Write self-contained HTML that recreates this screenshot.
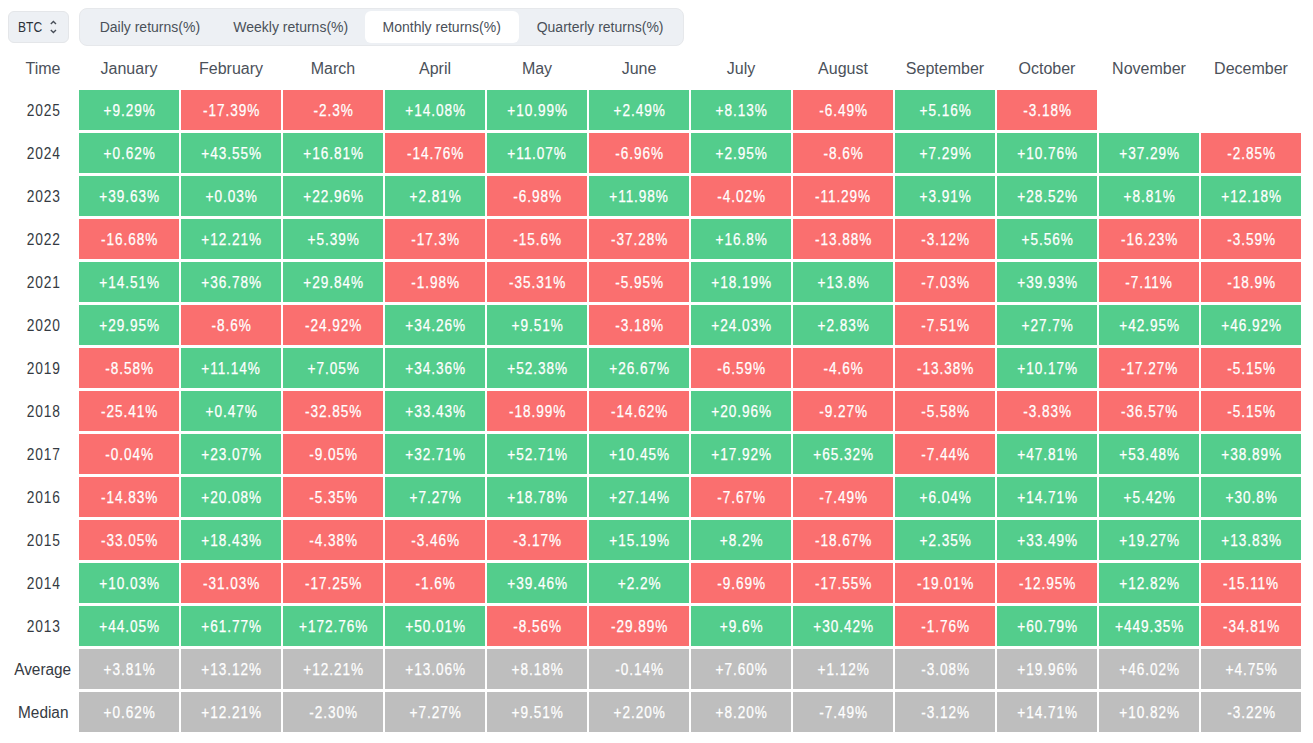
<!DOCTYPE html><html><head><meta charset="utf-8"><style>
*{margin:0;padding:0;box-sizing:border-box}
html,body{width:1313px;height:743px;background:#fff;overflow:hidden}
body{position:relative;font-family:"Liberation Sans",sans-serif}
.sel{position:absolute;left:8px;top:11px;width:61px;height:32px;background:#edf0f4;border:1px solid #e4e6e9;border-radius:6px}
.sel span{position:absolute;left:9px;top:7px;font-size:14px;line-height:16px;color:#2b3139;transform:scaleX(.86);transform-origin:0 0}
.sel svg{position:absolute;left:41px;top:8px}
.tabs{position:absolute;left:79px;top:8px;width:605px;height:38px;background:#edf0f4;border:1px solid #e6e8eb;border-radius:8px}
.act{position:absolute;left:365px;top:11px;width:154px;height:32px;background:#fff;border-radius:6px}
.t{position:absolute;top:19px;font-size:14px;line-height:16px;color:#4a5059;white-space:nowrap}
.h{position:absolute;top:60px;font-size:16px;line-height:18px;color:#4b515a;white-space:nowrap;text-align:center}
.y{position:absolute;font-size:16px;line-height:18px;color:#353a42;white-space:nowrap;text-align:center;width:70px;left:8px}
.c{position:absolute;width:100px;height:40px;color:#fff;font-size:16px;line-height:38px;padding-top:2px;text-align:center;white-space:nowrap}
.c span{display:inline-block;transform:scaleX(.85);letter-spacing:1.1px;margin-left:1.1px;-webkit-text-stroke:0.25px #fff}
.y span{display:inline-block;transform:scaleX(.86);letter-spacing:1px;margin-left:1px}
.y .w{transform:scaleX(.96);letter-spacing:0;margin-left:0}
.g{background:#53cd8c}.r{background:#fa6f6f}.n{background:#bebebe}
</style></head><body>
<div class="sel"><span>BTC</span><svg width="10" height="16" viewBox="0 0 10 16"><path d="M0.8 4 L3.4 1.5 L6 4 M0.8 10 L3.4 12.5 L6 10" fill="none" stroke="#474d57" stroke-width="1.35"/></svg></div>
<div class="tabs"></div><div class="act"></div>
<div class="t" style="left:99.7px">Daily returns(%)</div>
<div class="t" style="left:233.3px">Weekly returns(%)</div>
<div class="t" style="left:382.6px">Monthly returns(%)</div>
<div class="t" style="left:536.7px">Quarterly returns(%)</div>
<div class="h" style="left:8px;width:70px">Time</div>
<div class="h" style="left:79px;width:100px">January</div>
<div class="h" style="left:181px;width:100px">February</div>
<div class="h" style="left:283px;width:100px">March</div>
<div class="h" style="left:385px;width:100px">April</div>
<div class="h" style="left:487px;width:100px">May</div>
<div class="h" style="left:589px;width:100px">June</div>
<div class="h" style="left:691px;width:100px">July</div>
<div class="h" style="left:793px;width:100px">August</div>
<div class="h" style="left:895px;width:100px">September</div>
<div class="h" style="left:997px;width:100px">October</div>
<div class="h" style="left:1099px;width:100px">November</div>
<div class="h" style="left:1201px;width:100px">December</div>
<div class="y" style="top:102px"><span>2025</span></div>
<div class="c g" style="left:79px;top:90px"><span>+9.29%</span></div>
<div class="c r" style="left:181px;top:90px"><span>-17.39%</span></div>
<div class="c r" style="left:283px;top:90px"><span>-2.3%</span></div>
<div class="c g" style="left:385px;top:90px"><span>+14.08%</span></div>
<div class="c g" style="left:487px;top:90px"><span>+10.99%</span></div>
<div class="c g" style="left:589px;top:90px"><span>+2.49%</span></div>
<div class="c g" style="left:691px;top:90px"><span>+8.13%</span></div>
<div class="c r" style="left:793px;top:90px"><span>-6.49%</span></div>
<div class="c g" style="left:895px;top:90px"><span>+5.16%</span></div>
<div class="c r" style="left:997px;top:90px"><span>-3.18%</span></div>
<div class="y" style="top:145px"><span>2024</span></div>
<div class="c g" style="left:79px;top:133px"><span>+0.62%</span></div>
<div class="c g" style="left:181px;top:133px"><span>+43.55%</span></div>
<div class="c g" style="left:283px;top:133px"><span>+16.81%</span></div>
<div class="c r" style="left:385px;top:133px"><span>-14.76%</span></div>
<div class="c g" style="left:487px;top:133px"><span>+11.07%</span></div>
<div class="c r" style="left:589px;top:133px"><span>-6.96%</span></div>
<div class="c g" style="left:691px;top:133px"><span>+2.95%</span></div>
<div class="c r" style="left:793px;top:133px"><span>-8.6%</span></div>
<div class="c g" style="left:895px;top:133px"><span>+7.29%</span></div>
<div class="c g" style="left:997px;top:133px"><span>+10.76%</span></div>
<div class="c g" style="left:1099px;top:133px"><span>+37.29%</span></div>
<div class="c r" style="left:1201px;top:133px"><span>-2.85%</span></div>
<div class="y" style="top:188px"><span>2023</span></div>
<div class="c g" style="left:79px;top:176px"><span>+39.63%</span></div>
<div class="c g" style="left:181px;top:176px"><span>+0.03%</span></div>
<div class="c g" style="left:283px;top:176px"><span>+22.96%</span></div>
<div class="c g" style="left:385px;top:176px"><span>+2.81%</span></div>
<div class="c r" style="left:487px;top:176px"><span>-6.98%</span></div>
<div class="c g" style="left:589px;top:176px"><span>+11.98%</span></div>
<div class="c r" style="left:691px;top:176px"><span>-4.02%</span></div>
<div class="c r" style="left:793px;top:176px"><span>-11.29%</span></div>
<div class="c g" style="left:895px;top:176px"><span>+3.91%</span></div>
<div class="c g" style="left:997px;top:176px"><span>+28.52%</span></div>
<div class="c g" style="left:1099px;top:176px"><span>+8.81%</span></div>
<div class="c g" style="left:1201px;top:176px"><span>+12.18%</span></div>
<div class="y" style="top:231px"><span>2022</span></div>
<div class="c r" style="left:79px;top:219px"><span>-16.68%</span></div>
<div class="c g" style="left:181px;top:219px"><span>+12.21%</span></div>
<div class="c g" style="left:283px;top:219px"><span>+5.39%</span></div>
<div class="c r" style="left:385px;top:219px"><span>-17.3%</span></div>
<div class="c r" style="left:487px;top:219px"><span>-15.6%</span></div>
<div class="c r" style="left:589px;top:219px"><span>-37.28%</span></div>
<div class="c g" style="left:691px;top:219px"><span>+16.8%</span></div>
<div class="c r" style="left:793px;top:219px"><span>-13.88%</span></div>
<div class="c r" style="left:895px;top:219px"><span>-3.12%</span></div>
<div class="c g" style="left:997px;top:219px"><span>+5.56%</span></div>
<div class="c r" style="left:1099px;top:219px"><span>-16.23%</span></div>
<div class="c r" style="left:1201px;top:219px"><span>-3.59%</span></div>
<div class="y" style="top:274px"><span>2021</span></div>
<div class="c g" style="left:79px;top:262px"><span>+14.51%</span></div>
<div class="c g" style="left:181px;top:262px"><span>+36.78%</span></div>
<div class="c g" style="left:283px;top:262px"><span>+29.84%</span></div>
<div class="c r" style="left:385px;top:262px"><span>-1.98%</span></div>
<div class="c r" style="left:487px;top:262px"><span>-35.31%</span></div>
<div class="c r" style="left:589px;top:262px"><span>-5.95%</span></div>
<div class="c g" style="left:691px;top:262px"><span>+18.19%</span></div>
<div class="c g" style="left:793px;top:262px"><span>+13.8%</span></div>
<div class="c r" style="left:895px;top:262px"><span>-7.03%</span></div>
<div class="c g" style="left:997px;top:262px"><span>+39.93%</span></div>
<div class="c r" style="left:1099px;top:262px"><span>-7.11%</span></div>
<div class="c r" style="left:1201px;top:262px"><span>-18.9%</span></div>
<div class="y" style="top:317px"><span>2020</span></div>
<div class="c g" style="left:79px;top:305px"><span>+29.95%</span></div>
<div class="c r" style="left:181px;top:305px"><span>-8.6%</span></div>
<div class="c r" style="left:283px;top:305px"><span>-24.92%</span></div>
<div class="c g" style="left:385px;top:305px"><span>+34.26%</span></div>
<div class="c g" style="left:487px;top:305px"><span>+9.51%</span></div>
<div class="c r" style="left:589px;top:305px"><span>-3.18%</span></div>
<div class="c g" style="left:691px;top:305px"><span>+24.03%</span></div>
<div class="c g" style="left:793px;top:305px"><span>+2.83%</span></div>
<div class="c r" style="left:895px;top:305px"><span>-7.51%</span></div>
<div class="c g" style="left:997px;top:305px"><span>+27.7%</span></div>
<div class="c g" style="left:1099px;top:305px"><span>+42.95%</span></div>
<div class="c g" style="left:1201px;top:305px"><span>+46.92%</span></div>
<div class="y" style="top:360px"><span>2019</span></div>
<div class="c r" style="left:79px;top:348px"><span>-8.58%</span></div>
<div class="c g" style="left:181px;top:348px"><span>+11.14%</span></div>
<div class="c g" style="left:283px;top:348px"><span>+7.05%</span></div>
<div class="c g" style="left:385px;top:348px"><span>+34.36%</span></div>
<div class="c g" style="left:487px;top:348px"><span>+52.38%</span></div>
<div class="c g" style="left:589px;top:348px"><span>+26.67%</span></div>
<div class="c r" style="left:691px;top:348px"><span>-6.59%</span></div>
<div class="c r" style="left:793px;top:348px"><span>-4.6%</span></div>
<div class="c r" style="left:895px;top:348px"><span>-13.38%</span></div>
<div class="c g" style="left:997px;top:348px"><span>+10.17%</span></div>
<div class="c r" style="left:1099px;top:348px"><span>-17.27%</span></div>
<div class="c r" style="left:1201px;top:348px"><span>-5.15%</span></div>
<div class="y" style="top:403px"><span>2018</span></div>
<div class="c r" style="left:79px;top:391px"><span>-25.41%</span></div>
<div class="c g" style="left:181px;top:391px"><span>+0.47%</span></div>
<div class="c r" style="left:283px;top:391px"><span>-32.85%</span></div>
<div class="c g" style="left:385px;top:391px"><span>+33.43%</span></div>
<div class="c r" style="left:487px;top:391px"><span>-18.99%</span></div>
<div class="c r" style="left:589px;top:391px"><span>-14.62%</span></div>
<div class="c g" style="left:691px;top:391px"><span>+20.96%</span></div>
<div class="c r" style="left:793px;top:391px"><span>-9.27%</span></div>
<div class="c r" style="left:895px;top:391px"><span>-5.58%</span></div>
<div class="c r" style="left:997px;top:391px"><span>-3.83%</span></div>
<div class="c r" style="left:1099px;top:391px"><span>-36.57%</span></div>
<div class="c r" style="left:1201px;top:391px"><span>-5.15%</span></div>
<div class="y" style="top:446px"><span>2017</span></div>
<div class="c r" style="left:79px;top:434px"><span>-0.04%</span></div>
<div class="c g" style="left:181px;top:434px"><span>+23.07%</span></div>
<div class="c r" style="left:283px;top:434px"><span>-9.05%</span></div>
<div class="c g" style="left:385px;top:434px"><span>+32.71%</span></div>
<div class="c g" style="left:487px;top:434px"><span>+52.71%</span></div>
<div class="c g" style="left:589px;top:434px"><span>+10.45%</span></div>
<div class="c g" style="left:691px;top:434px"><span>+17.92%</span></div>
<div class="c g" style="left:793px;top:434px"><span>+65.32%</span></div>
<div class="c r" style="left:895px;top:434px"><span>-7.44%</span></div>
<div class="c g" style="left:997px;top:434px"><span>+47.81%</span></div>
<div class="c g" style="left:1099px;top:434px"><span>+53.48%</span></div>
<div class="c g" style="left:1201px;top:434px"><span>+38.89%</span></div>
<div class="y" style="top:489px"><span>2016</span></div>
<div class="c r" style="left:79px;top:477px"><span>-14.83%</span></div>
<div class="c g" style="left:181px;top:477px"><span>+20.08%</span></div>
<div class="c r" style="left:283px;top:477px"><span>-5.35%</span></div>
<div class="c g" style="left:385px;top:477px"><span>+7.27%</span></div>
<div class="c g" style="left:487px;top:477px"><span>+18.78%</span></div>
<div class="c g" style="left:589px;top:477px"><span>+27.14%</span></div>
<div class="c r" style="left:691px;top:477px"><span>-7.67%</span></div>
<div class="c r" style="left:793px;top:477px"><span>-7.49%</span></div>
<div class="c g" style="left:895px;top:477px"><span>+6.04%</span></div>
<div class="c g" style="left:997px;top:477px"><span>+14.71%</span></div>
<div class="c g" style="left:1099px;top:477px"><span>+5.42%</span></div>
<div class="c g" style="left:1201px;top:477px"><span>+30.8%</span></div>
<div class="y" style="top:532px"><span>2015</span></div>
<div class="c r" style="left:79px;top:520px"><span>-33.05%</span></div>
<div class="c g" style="left:181px;top:520px"><span>+18.43%</span></div>
<div class="c r" style="left:283px;top:520px"><span>-4.38%</span></div>
<div class="c r" style="left:385px;top:520px"><span>-3.46%</span></div>
<div class="c r" style="left:487px;top:520px"><span>-3.17%</span></div>
<div class="c g" style="left:589px;top:520px"><span>+15.19%</span></div>
<div class="c g" style="left:691px;top:520px"><span>+8.2%</span></div>
<div class="c r" style="left:793px;top:520px"><span>-18.67%</span></div>
<div class="c g" style="left:895px;top:520px"><span>+2.35%</span></div>
<div class="c g" style="left:997px;top:520px"><span>+33.49%</span></div>
<div class="c g" style="left:1099px;top:520px"><span>+19.27%</span></div>
<div class="c g" style="left:1201px;top:520px"><span>+13.83%</span></div>
<div class="y" style="top:575px"><span>2014</span></div>
<div class="c g" style="left:79px;top:563px"><span>+10.03%</span></div>
<div class="c r" style="left:181px;top:563px"><span>-31.03%</span></div>
<div class="c r" style="left:283px;top:563px"><span>-17.25%</span></div>
<div class="c r" style="left:385px;top:563px"><span>-1.6%</span></div>
<div class="c g" style="left:487px;top:563px"><span>+39.46%</span></div>
<div class="c g" style="left:589px;top:563px"><span>+2.2%</span></div>
<div class="c r" style="left:691px;top:563px"><span>-9.69%</span></div>
<div class="c r" style="left:793px;top:563px"><span>-17.55%</span></div>
<div class="c r" style="left:895px;top:563px"><span>-19.01%</span></div>
<div class="c r" style="left:997px;top:563px"><span>-12.95%</span></div>
<div class="c g" style="left:1099px;top:563px"><span>+12.82%</span></div>
<div class="c r" style="left:1201px;top:563px"><span>-15.11%</span></div>
<div class="y" style="top:618px"><span>2013</span></div>
<div class="c g" style="left:79px;top:606px"><span>+44.05%</span></div>
<div class="c g" style="left:181px;top:606px"><span>+61.77%</span></div>
<div class="c g" style="left:283px;top:606px"><span>+172.76%</span></div>
<div class="c g" style="left:385px;top:606px"><span>+50.01%</span></div>
<div class="c r" style="left:487px;top:606px"><span>-8.56%</span></div>
<div class="c r" style="left:589px;top:606px"><span>-29.89%</span></div>
<div class="c g" style="left:691px;top:606px"><span>+9.6%</span></div>
<div class="c g" style="left:793px;top:606px"><span>+30.42%</span></div>
<div class="c r" style="left:895px;top:606px"><span>-1.76%</span></div>
<div class="c g" style="left:997px;top:606px"><span>+60.79%</span></div>
<div class="c g" style="left:1099px;top:606px"><span>+449.35%</span></div>
<div class="c r" style="left:1201px;top:606px"><span>-34.81%</span></div>
<div class="y" style="top:661px"><span class="w">Average</span></div>
<div class="c n" style="left:79px;top:649px"><span>+3.81%</span></div>
<div class="c n" style="left:181px;top:649px"><span>+13.12%</span></div>
<div class="c n" style="left:283px;top:649px"><span>+12.21%</span></div>
<div class="c n" style="left:385px;top:649px"><span>+13.06%</span></div>
<div class="c n" style="left:487px;top:649px"><span>+8.18%</span></div>
<div class="c n" style="left:589px;top:649px"><span>-0.14%</span></div>
<div class="c n" style="left:691px;top:649px"><span>+7.60%</span></div>
<div class="c n" style="left:793px;top:649px"><span>+1.12%</span></div>
<div class="c n" style="left:895px;top:649px"><span>-3.08%</span></div>
<div class="c n" style="left:997px;top:649px"><span>+19.96%</span></div>
<div class="c n" style="left:1099px;top:649px"><span>+46.02%</span></div>
<div class="c n" style="left:1201px;top:649px"><span>+4.75%</span></div>
<div class="y" style="top:704px"><span class="w">Median</span></div>
<div class="c n" style="left:79px;top:692px"><span>+0.62%</span></div>
<div class="c n" style="left:181px;top:692px"><span>+12.21%</span></div>
<div class="c n" style="left:283px;top:692px"><span>-2.30%</span></div>
<div class="c n" style="left:385px;top:692px"><span>+7.27%</span></div>
<div class="c n" style="left:487px;top:692px"><span>+9.51%</span></div>
<div class="c n" style="left:589px;top:692px"><span>+2.20%</span></div>
<div class="c n" style="left:691px;top:692px"><span>+8.20%</span></div>
<div class="c n" style="left:793px;top:692px"><span>-7.49%</span></div>
<div class="c n" style="left:895px;top:692px"><span>-3.12%</span></div>
<div class="c n" style="left:997px;top:692px"><span>+14.71%</span></div>
<div class="c n" style="left:1099px;top:692px"><span>+10.82%</span></div>
<div class="c n" style="left:1201px;top:692px"><span>-3.22%</span></div>
</body></html>
